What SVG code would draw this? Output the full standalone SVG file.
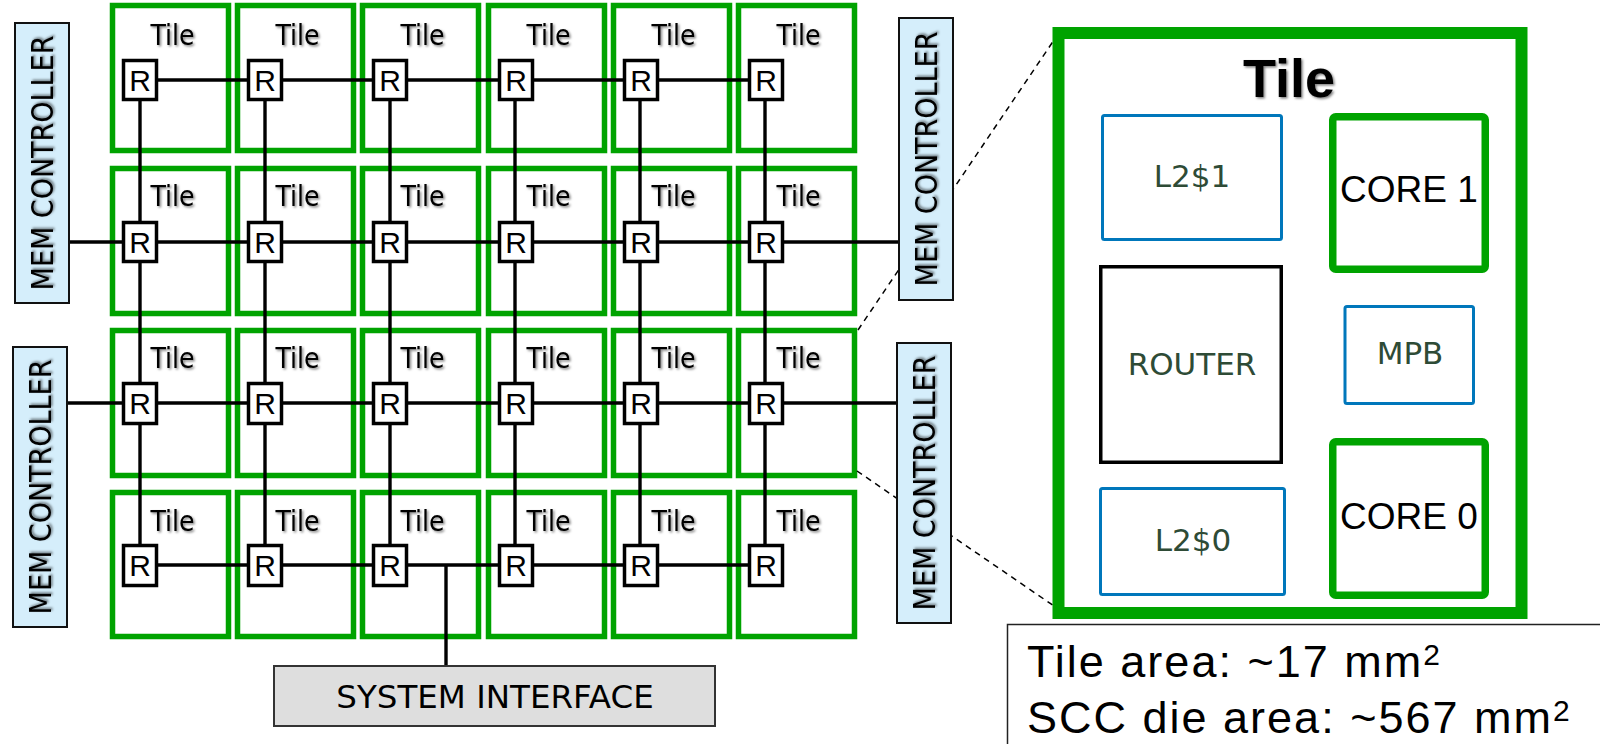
<svg xmlns="http://www.w3.org/2000/svg" width="1600" height="744" viewBox="0 0 1600 744">
  <defs>
    <filter id="shadow" x="-20%" y="-20%" width="140%" height="140%">
      <feDropShadow dx="1.5" dy="1.5" stdDeviation="1" flood-color="#000" flood-opacity="0.5"/>
    </filter>
  </defs>
  <style>
    .tile { fill: #fff; stroke: #00a300; stroke-width: 5.5; }
    .tlabel { font-family: "DejaVu Sans Condensed", "Liberation Sans", sans-serif; font-stretch: condensed; font-size: 28px; fill: #000; text-anchor: middle; filter: url(#shadow); }
    .router { fill: #fff; stroke: #000; stroke-width: 3.5; }
    .rlabel { font-family: "Liberation Sans", Arial, sans-serif; font-size: 30px; fill: #000; text-anchor: middle; }
    .mesh { stroke: #000; stroke-width: 3.4; fill: none; }
    .zoom { stroke: #000; stroke-width: 1.5; stroke-dasharray: 6 5; fill: none; }
    .mc { fill: #d5eefb; stroke: #111; stroke-width: 2; }
    .mclabel { font-family: "DejaVu Sans Condensed", "Liberation Sans", sans-serif; font-stretch: condensed; font-size: 30px; fill: #000; text-anchor: middle; filter: url(#shadow); }
    .sys { fill: #dedede; stroke: #333; stroke-width: 2; }
    .syslabel { font-family: "DejaVu Sans", Verdana, sans-serif; font-size: 32.5px; fill: #000; text-anchor: middle; }
    .big { fill: #fff; stroke: #00a300; stroke-width: 12; }
    .head { font-family: "Liberation Sans", Arial, sans-serif; font-weight: bold; font-size: 54px; fill: #000; text-anchor: middle; filter: url(#shadow); }
    .cache { fill: #fff; stroke: #0077bb; stroke-width: 3; }
    .core { fill: #fff; stroke: #00a300; stroke-width: 7.5; }
    .rtr { fill: #fff; stroke: #000; stroke-width: 3.5; }
    .part { font-family: "DejaVu Sans", Verdana, sans-serif; font-size: 31px; fill: #2e4b36; text-anchor: middle; }
    .corelabel { font-family: "Liberation Sans", Arial, sans-serif; font-size: 37px; fill: #000; text-anchor: middle; }
    .note { fill: #fff; stroke: #222; stroke-width: 1.5; }
    .notetext { font-family: "Liberation Sans", Arial, sans-serif; font-size: 45px; letter-spacing: 2px; fill: #000; }
  </style>

  <rect width="1600" height="744" fill="#fff"/>

  <!-- 6 x 4 tile array -->
  <g id="tiles">
    <g id="tile-r1-c1"><rect class="tile" x="112.5" y="5.5" width="116" height="145"/><text class="tlabel" x="172.5" y="45">Tile</text></g>
    <g id="tile-r1-c2"><rect class="tile" x="237.5" y="5.5" width="116" height="145"/><text class="tlabel" x="297.5" y="45">Tile</text></g>
    <g id="tile-r1-c3"><rect class="tile" x="362.5" y="5.5" width="116" height="145"/><text class="tlabel" x="422.5" y="45">Tile</text></g>
    <g id="tile-r1-c4"><rect class="tile" x="488.5" y="5.5" width="116" height="145"/><text class="tlabel" x="548.5" y="45">Tile</text></g>
    <g id="tile-r1-c5"><rect class="tile" x="613.5" y="5.5" width="116" height="145"/><text class="tlabel" x="673.5" y="45">Tile</text></g>
    <g id="tile-r1-c6"><rect class="tile" x="738.5" y="5.5" width="116" height="145"/><text class="tlabel" x="798.5" y="45">Tile</text></g>

    <g id="tile-r2-c1"><rect class="tile" x="112.5" y="168.5" width="116" height="145"/><text class="tlabel" x="172.5" y="206">Tile</text></g>
    <g id="tile-r2-c2"><rect class="tile" x="237.5" y="168.5" width="116" height="145"/><text class="tlabel" x="297.5" y="206">Tile</text></g>
    <g id="tile-r2-c3"><rect class="tile" x="362.5" y="168.5" width="116" height="145"/><text class="tlabel" x="422.5" y="206">Tile</text></g>
    <g id="tile-r2-c4"><rect class="tile" x="488.5" y="168.5" width="116" height="145"/><text class="tlabel" x="548.5" y="206">Tile</text></g>
    <g id="tile-r2-c5"><rect class="tile" x="613.5" y="168.5" width="116" height="145"/><text class="tlabel" x="673.5" y="206">Tile</text></g>
    <g id="tile-r2-c6"><rect class="tile" x="738.5" y="168.5" width="116" height="145"/><text class="tlabel" x="798.5" y="206">Tile</text></g>

    <g id="tile-r3-c1"><rect class="tile" x="112.5" y="330.5" width="116" height="145"/><text class="tlabel" x="172.5" y="368">Tile</text></g>
    <g id="tile-r3-c2"><rect class="tile" x="237.5" y="330.5" width="116" height="145"/><text class="tlabel" x="297.5" y="368">Tile</text></g>
    <g id="tile-r3-c3"><rect class="tile" x="362.5" y="330.5" width="116" height="145"/><text class="tlabel" x="422.5" y="368">Tile</text></g>
    <g id="tile-r3-c4"><rect class="tile" x="488.5" y="330.5" width="116" height="145"/><text class="tlabel" x="548.5" y="368">Tile</text></g>
    <g id="tile-r3-c5"><rect class="tile" x="613.5" y="330.5" width="116" height="145"/><text class="tlabel" x="673.5" y="368">Tile</text></g>
    <g id="tile-r3-c6"><rect class="tile" x="738.5" y="330.5" width="116" height="145"/><text class="tlabel" x="798.5" y="368">Tile</text></g>

    <g id="tile-r4-c1"><rect class="tile" x="112.5" y="492.5" width="116" height="144"/><text class="tlabel" x="172.5" y="531">Tile</text></g>
    <g id="tile-r4-c2"><rect class="tile" x="237.5" y="492.5" width="116" height="144"/><text class="tlabel" x="297.5" y="531">Tile</text></g>
    <g id="tile-r4-c3"><rect class="tile" x="362.5" y="492.5" width="116" height="144"/><text class="tlabel" x="422.5" y="531">Tile</text></g>
    <g id="tile-r4-c4"><rect class="tile" x="488.5" y="492.5" width="116" height="144"/><text class="tlabel" x="548.5" y="531">Tile</text></g>
    <g id="tile-r4-c5"><rect class="tile" x="613.5" y="492.5" width="116" height="144"/><text class="tlabel" x="673.5" y="531">Tile</text></g>
    <g id="tile-r4-c6"><rect class="tile" x="738.5" y="492.5" width="116" height="144"/><text class="tlabel" x="798.5" y="531">Tile</text></g>
  </g>

  <!-- mesh links, memory/system links and zoom-out guides -->
  <g id="connectors">
    <line class="mesh" x1="140" y1="80" x2="140" y2="565"/>
    <line class="mesh" x1="265" y1="80" x2="265" y2="565"/>
    <line class="mesh" x1="390" y1="80" x2="390" y2="565"/>
    <line class="mesh" x1="515" y1="80" x2="515" y2="565"/>
    <line class="mesh" x1="640" y1="80" x2="640" y2="565"/>
    <line class="mesh" x1="765" y1="80" x2="765" y2="565"/>

    <line class="mesh" x1="140" y1="80" x2="766" y2="80"/>
    <line class="mesh" x1="69" y1="242" x2="899" y2="242"/>
    <line class="mesh" x1="67" y1="403" x2="897" y2="403"/>
    <line class="mesh" x1="140" y1="565" x2="766" y2="565"/>
    <line class="mesh" x1="446" y1="565" x2="446" y2="666"/>

    <line class="zoom" x1="858" y1="330" x2="1054" y2="40"/>
    <line class="zoom" x1="857" y1="471" x2="1054" y2="606"/>
  </g>

  <!-- routers -->
  <g id="routers">
    <g id="router-r1-c1"><rect class="router" x="123.5" y="60.5" width="33" height="39"/><text class="rlabel" x="140" y="91">R</text></g>
    <g id="router-r1-c2"><rect class="router" x="248.5" y="60.5" width="33" height="39"/><text class="rlabel" x="265" y="91">R</text></g>
    <g id="router-r1-c3"><rect class="router" x="373.5" y="60.5" width="33" height="39"/><text class="rlabel" x="390" y="91">R</text></g>
    <g id="router-r1-c4"><rect class="router" x="499.5" y="60.5" width="33" height="39"/><text class="rlabel" x="516" y="91">R</text></g>
    <g id="router-r1-c5"><rect class="router" x="624.5" y="60.5" width="33" height="39"/><text class="rlabel" x="641" y="91">R</text></g>
    <g id="router-r1-c6"><rect class="router" x="749.5" y="60.5" width="33" height="39"/><text class="rlabel" x="766" y="91">R</text></g>

    <g id="router-r2-c1"><rect class="router" x="123.5" y="222.5" width="33" height="39"/><text class="rlabel" x="140" y="253">R</text></g>
    <g id="router-r2-c2"><rect class="router" x="248.5" y="222.5" width="33" height="39"/><text class="rlabel" x="265" y="253">R</text></g>
    <g id="router-r2-c3"><rect class="router" x="373.5" y="222.5" width="33" height="39"/><text class="rlabel" x="390" y="253">R</text></g>
    <g id="router-r2-c4"><rect class="router" x="499.5" y="222.5" width="33" height="39"/><text class="rlabel" x="516" y="253">R</text></g>
    <g id="router-r2-c5"><rect class="router" x="624.5" y="222.5" width="33" height="39"/><text class="rlabel" x="641" y="253">R</text></g>
    <g id="router-r2-c6"><rect class="router" x="749.5" y="222.5" width="33" height="39"/><text class="rlabel" x="766" y="253">R</text></g>

    <g id="router-r3-c1"><rect class="router" x="123.5" y="383.5" width="33" height="40"/><text class="rlabel" x="140" y="414">R</text></g>
    <g id="router-r3-c2"><rect class="router" x="248.5" y="383.5" width="33" height="40"/><text class="rlabel" x="265" y="414">R</text></g>
    <g id="router-r3-c3"><rect class="router" x="373.5" y="383.5" width="33" height="40"/><text class="rlabel" x="390" y="414">R</text></g>
    <g id="router-r3-c4"><rect class="router" x="499.5" y="383.5" width="33" height="40"/><text class="rlabel" x="516" y="414">R</text></g>
    <g id="router-r3-c5"><rect class="router" x="624.5" y="383.5" width="33" height="40"/><text class="rlabel" x="641" y="414">R</text></g>
    <g id="router-r3-c6"><rect class="router" x="749.5" y="383.5" width="33" height="40"/><text class="rlabel" x="766" y="414">R</text></g>

    <g id="router-r4-c1"><rect class="router" x="123.5" y="545.5" width="33" height="40"/><text class="rlabel" x="140" y="576">R</text></g>
    <g id="router-r4-c2"><rect class="router" x="248.5" y="545.5" width="33" height="40"/><text class="rlabel" x="265" y="576">R</text></g>
    <g id="router-r4-c3"><rect class="router" x="373.5" y="545.5" width="33" height="40"/><text class="rlabel" x="390" y="576">R</text></g>
    <g id="router-r4-c4"><rect class="router" x="499.5" y="545.5" width="33" height="40"/><text class="rlabel" x="516" y="576">R</text></g>
    <g id="router-r4-c5"><rect class="router" x="624.5" y="545.5" width="33" height="40"/><text class="rlabel" x="641" y="576">R</text></g>
    <g id="router-r4-c6"><rect class="router" x="749.5" y="545.5" width="33" height="40"/><text class="rlabel" x="766" y="576">R</text></g>
  </g>

  <!-- memory controllers -->
  <g id="mem-controller-left-top">
    <rect class="mc" x="15" y="23" width="54" height="280"/>
    <text class="mclabel" transform="translate(53 163) rotate(-90)">MEM CONTROLLER</text>
  </g>
  <g id="mem-controller-left-bottom">
    <rect class="mc" x="13" y="347" width="54" height="280"/>
    <text class="mclabel" transform="translate(51 487) rotate(-90)">MEM CONTROLLER</text>
  </g>
  <g id="mem-controller-right-top">
    <rect class="mc" x="899" y="18" width="54" height="282"/>
    <text class="mclabel" transform="translate(937 159) rotate(-90)">MEM CONTROLLER</text>
  </g>
  <g id="mem-controller-right-bottom">
    <rect class="mc" x="897" y="343" width="54" height="280"/>
    <text class="mclabel" transform="translate(935 483) rotate(-90)">MEM CONTROLLER</text>
  </g>

  <!-- system interface -->
  <g id="system-interface">
    <rect class="sys" x="274" y="666" width="441" height="60"/>
    <text class="syslabel" x="495" y="708">SYSTEM INTERFACE</text>
  </g>

  <!-- enlarged tile floorplan -->
  <g id="tile-detail">
    <rect class="big" x="1058.5" y="33" width="463" height="580"/>
    <text class="head" x="1289" y="97">Tile</text>
  </g>
  <g id="l2-cache-1">
    <rect class="cache" x="1102.5" y="115.5" width="179" height="124" rx="2"/>
    <text class="part" x="1192" y="187">L2$1</text>
  </g>
  <g id="core-1">
    <rect class="core" x="1332.75" y="116.75" width="152.5" height="152.5" rx="3"/>
    <text class="corelabel" x="1409" y="202">CORE 1</text>
  </g>
  <g id="router-detail">
    <rect class="rtr" x="1100.75" y="266.75" width="180.5" height="195.5"/>
    <text class="part" x="1192" y="375">ROUTER</text>
  </g>
  <g id="mpb">
    <rect class="cache" x="1345" y="306.5" width="128.5" height="97" rx="2"/>
    <text class="part" x="1410" y="364">MPB</text>
  </g>
  <g id="core-0">
    <rect class="core" x="1332.75" y="441.75" width="152.5" height="153.5" rx="3"/>
    <text class="corelabel" x="1409" y="529">CORE 0</text>
  </g>
  <g id="l2-cache-0">
    <rect class="cache" x="1100.5" y="488.5" width="184" height="106" rx="2"/>
    <text class="part" x="1193" y="551">L2$0</text>
  </g>

  <!-- area figures -->
  <g id="area-note">
    <rect class="note" x="1007.5" y="624.5" width="640" height="160"/>
    <text class="notetext" x="1027" y="677">Tile area: ~17 mm<tspan font-size="30" dy="-12">2</tspan></text>
    <text class="notetext" x="1027" y="733">SCC die area: ~567 mm<tspan font-size="30" dy="-12">2</tspan></text>
  </g>
</svg>
